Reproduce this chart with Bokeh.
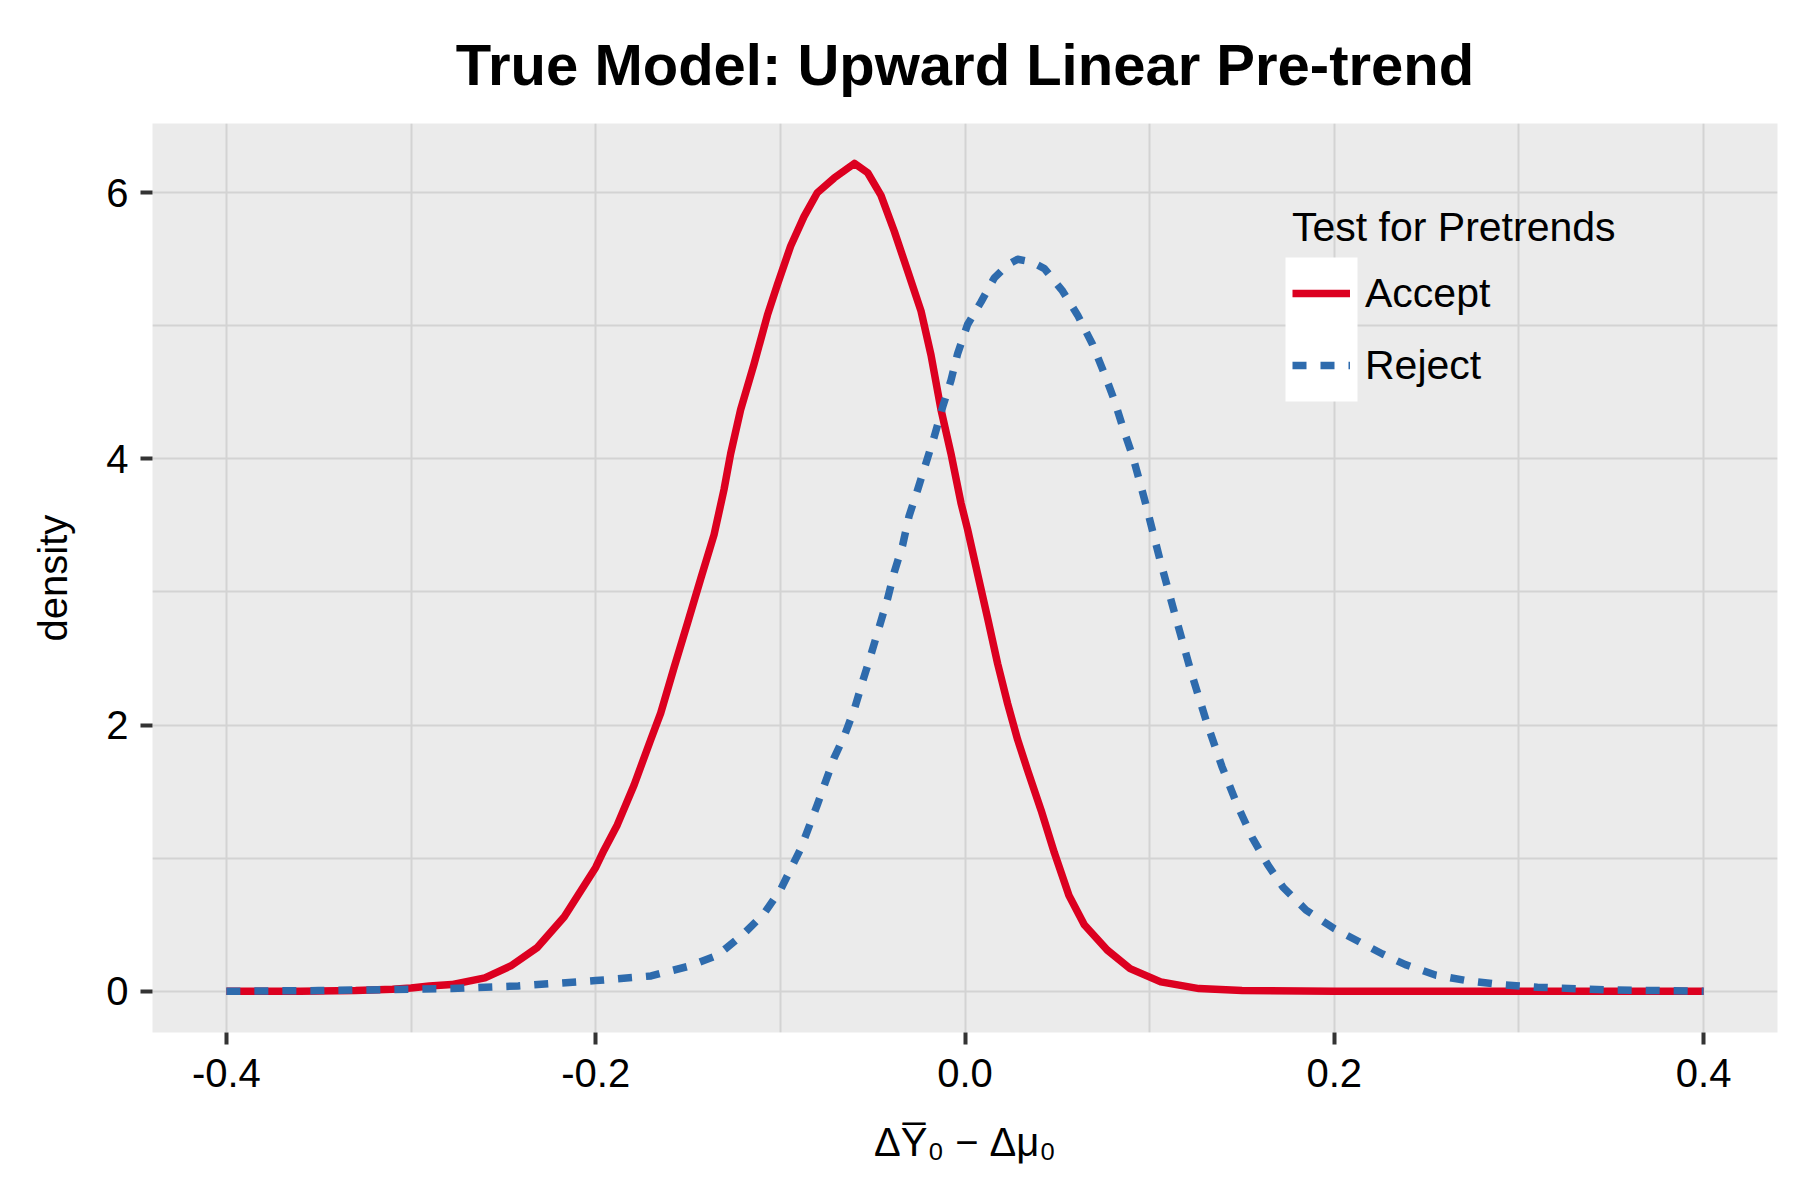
from bokeh.plotting import figure
from bokeh.models import (Range1d, FixedTicker, NumeralTickFormatter, Legend, LegendItem,
                          BoxAnnotation, ColumnDataSource)
from bokeh.embed import file_html
from bokeh.resources import INLINE

# ---- data ----
accept_x = [-0.40, -0.36, -0.33, -0.31, -0.30, -0.29, -0.278, -0.26, -0.246, -0.2315, -0.217,
            -0.200, -0.1955, -0.1883, -0.1792, -0.1702, -0.1648, -0.1576, -0.1504, -0.1431,
            -0.1359, -0.1305, -0.1269, -0.1215, -0.1143, -0.107, -0.1016, -0.0944, -0.0872,
            -0.080, -0.0709, -0.0599, -0.0527, -0.0455, -0.0383, -0.031, -0.0238, -0.0184,
            -0.013, -0.0076, -0.0022, 0.0014, 0.0069, 0.0123, 0.0177, 0.0231, 0.0285, 0.0339,
            0.0412, 0.0484, 0.0563, 0.0646, 0.077, 0.0894, 0.106, 0.1267, 0.15, 0.20, 0.30, 0.40]
accept_y = [0.0, 0.0, 0.005, 0.015, 0.025, 0.04, 0.05, 0.10, 0.19, 0.33, 0.56,
            0.93, 1.06, 1.25, 1.55, 1.89, 2.09, 2.43, 2.76, 3.10,
            3.43, 3.77, 4.04, 4.37, 4.71, 5.08, 5.31, 5.60, 5.82,
            6.00, 6.11, 6.22, 6.15, 5.98, 5.71, 5.41, 5.11, 4.78,
            4.37, 4.04, 3.67, 3.47, 3.13, 2.80, 2.46, 2.16, 1.89, 1.66,
            1.36, 1.04, 0.72, 0.50, 0.31, 0.17, 0.07, 0.02, 0.005, 0.0, 0.0, 0.0]

reject_x = [-0.40, -0.35, -0.30, -0.278, -0.242, -0.200, -0.170, -0.149, -0.134, -0.120, -0.109,
            -0.100, -0.089, -0.080, -0.071, -0.0653, -0.0599, -0.0554, -0.0509, -0.0464,
            -0.0419, -0.0383, -0.0338, -0.0303, -0.0256, -0.0211, -0.0166, -0.0121, -0.0076,
            -0.004, 0.0014, 0.0087, 0.0159, 0.0232, 0.0285, 0.036, 0.043, 0.0529, 0.061,
            0.0691, 0.0755, 0.0809, 0.0854, 0.0908, 0.0944, 0.0977, 0.106, 0.1143, 0.1226,
            0.1309, 0.1391, 0.1474, 0.1557, 0.164, 0.1723, 0.1847, 0.200, 0.2137, 0.2261,
            0.2385, 0.2551, 0.2716, 0.290, 0.310, 0.350, 0.40]
reject_y = [0.0, 0.005, 0.015, 0.02, 0.04, 0.08, 0.115, 0.19, 0.27, 0.43, 0.58,
            0.76, 1.07, 1.40, 1.75, 1.92, 2.12, 2.33, 2.53, 2.74,
            2.95, 3.15, 3.35, 3.57, 3.77, 3.97, 4.17, 4.39, 4.59,
            4.79, 5.01, 5.18, 5.36, 5.46, 5.50, 5.48, 5.43, 5.26, 5.08,
            4.86, 4.64, 4.44, 4.24, 4.02, 3.84, 3.67, 3.22, 2.80, 2.39,
            2.02, 1.69, 1.40, 1.15, 0.95, 0.78, 0.61, 0.47, 0.37, 0.28,
            0.20, 0.12, 0.08, 0.05, 0.03, 0.01, 0.0]

series_names = ["Accept", "Reject"]
x_ticks = [-0.4, -0.2, 0.0, 0.2, 0.4]
x_minor = [-0.3, -0.1, 0.1, 0.3]
y_ticks = [0, 2, 4, 6]
y_minor = [1, 3, 5]

RED = "#DC0020"
BLUE = "#2E6BAD"
FONT = "Liberation Sans"

p = figure(width=1784, height=1184, output_backend="svg", toolbar_location=None,
           x_range=Range1d(-0.44, 0.44), y_range=Range1d(-0.31, 6.52),
           min_border_left=152, min_border_right=7, min_border_top=123, min_border_bottom=152,
           title="True Model: Upward Linear Pre-trend")

p.background_fill_color = "#EBEBEB"
p.border_fill_color = "white"
p.outline_line_color = None

p.title.text_font = FONT
p.title.text_font_size = "58px"
p.title.text_font_style = "bold"
p.title.text_color = "black"
p.title.align = "center"
p.title.standoff = 54

# grids
for g in (p.xgrid, p.ygrid):
    g.grid_line_color = "#D3D3D3"
    g.grid_line_width = 2
    g.minor_grid_line_color = "#D3D3D3"
    g.minor_grid_line_width = 2

p.xaxis.ticker = FixedTicker(ticks=x_ticks, minor_ticks=x_minor)
p.yaxis.ticker = FixedTicker(ticks=y_ticks, minor_ticks=y_minor)
p.xaxis.formatter = NumeralTickFormatter(format="0.0")

for ax in (p.xaxis, p.yaxis):
    ax.axis_line_color = None
    ax.major_tick_in = 0
    ax.major_tick_out = 12
    ax.major_tick_line_width = 4
    ax.major_tick_line_color = "#333333"
    ax.minor_tick_line_color = None
    ax.major_label_text_font = FONT
    ax.major_label_text_font_size = "40px"
    ax.major_label_text_color = "black"
    ax.axis_label_text_font = FONT
    ax.axis_label_text_font_size = "40px"
    ax.axis_label_text_font_style = "normal"
    ax.axis_label_text_color = "black"

p.yaxis.major_label_standoff = 12
p.xaxis.major_label_standoff = 14
p.yaxis.axis_label = "density"
p.yaxis.axis_label_standoff = 28
p.xaxis.axis_label = "\u0394Y\u0305\u2080 \u2212 \u0394\u03bc\u2080"
p.xaxis.axis_label_standoff = 30

src_a = ColumnDataSource(dict(x=accept_x, y=accept_y))
src_r = ColumnDataSource(dict(x=reject_x, y=reject_y))
ra = p.line("x", "y", source=src_a, line_color=RED, line_width=7.5, line_join="round")
rr = p.line("x", "y", source=src_r, line_color=BLUE, line_width=7.5, line_dash="14 14",
            line_join="round")

# white key background (ggplot legend.key)
key_bg = BoxAnnotation(left=1133, right=1205, top=775, bottom=631,
                       left_units="screen", right_units="screen",
                       top_units="screen", bottom_units="screen",
                       fill_color="white", fill_alpha=1.0, line_color=None)
p.add_layout(key_bg)

legend = Legend(items=[LegendItem(label=series_names[0], renderers=[ra]),
                       LegendItem(label=series_names[1], renderers=[rr])],
                title="Test for Pretrends", location=(1140, 631),
                padding=0, spacing=0, glyph_width=58, glyph_height=72,
                label_height=72, label_standoff=15, title_standoff=6,
                background_fill_alpha=0, border_line_color=None,
                label_text_font=FONT, label_text_font_size="41px", label_text_color="black",
                title_text_font=FONT, title_text_font_size="41px",
                title_text_font_style="normal", title_text_color="black")
p.add_layout(legend)

open("out.html", "w").write(file_html(p, INLINE))
